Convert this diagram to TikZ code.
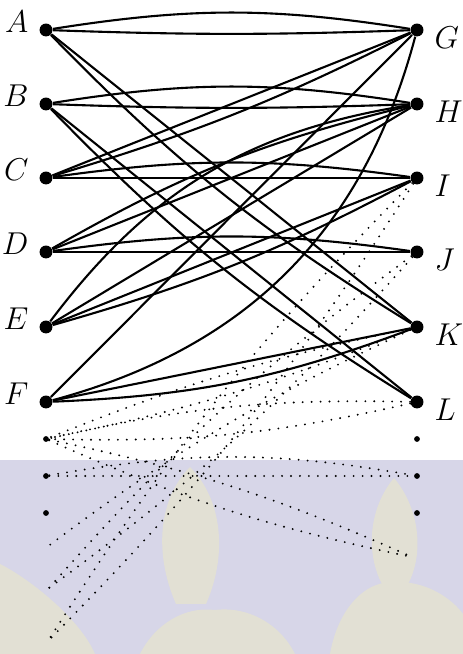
\documentclass[tikz,border=0pt]{standalone}
\usepackage{tikz}
\definecolor{lavbg}{RGB}{215,214,232}
\definecolor{leafcol}{RGB}{226,224,212}
\tikzset{
  vtx/.style={circle,fill,inner sep=0pt,minimum size=4.9pt},
  small/.style={circle,fill,inner sep=0pt,minimum size=2.2pt},
  edge/.style={line width=0.8pt},
  dotedge/.style={line width=0.8pt,dash pattern=on 0pt off 3.4pt,line cap=round},
  lab/.style={font=\fontsize{11.5}{13}\selectfont,label distance=0.5pt},
  labl/.style={lab,yshift=3pt},
  labr/.style={lab,yshift=-3pt}
}
\begin{document}
\begin{tikzpicture}[x=0.38pt,y=0.38pt]
\useasboundingbox (0,0) rectangle (463,654);
% watermark
\fill[lavbg] (0,0) rectangle (463,194);
\begin{scope}[leafcol]
\fill (190,187) .. controls (222,155) and (228,100) .. (206,50) -- (176,50) .. controls (154,100) and (158,155) .. (190,187);
\fill (394,176) .. controls (420,145) and (424,100) .. (408,70) -- (382,70) .. controls (366,100) and (368,145) .. (394,176);
\fill (0,90) .. controls (30,75) and (80,35) .. (95,0) -- (0,0) -- cycle;
\fill (140,0) .. controls (155,30) and (185,48) .. (215,44) .. controls (248,48) and (280,30) .. (295,0) -- cycle;
\fill (330,0) .. controls (338,45) and (365,75) .. (398,72) .. controls (428,72) and (452,55) .. (463,40) -- (463,0) -- cycle;
\end{scope}
% vertices
\node[vtx,label={[labl]left:$A$}] (A) at (46,624) {};
\node[vtx,label={[labl]left:$B$}] (B) at (46,550) {};
\node[vtx,label={[labl]left:$C$}] (C) at (46,476) {};
\node[vtx,label={[labl]left:$D$}] (D) at (46,402) {};
\node[vtx,label={[labl]left:$E$}] (E) at (46,327) {};
\node[vtx,label={[labl]left:$F$}] (F) at (46,252) {};
\node[vtx,label={[labr]right:$G$}] (G) at (417,624) {};
\node[vtx,label={[labr]right:$H$}] (H) at (417,550) {};
\node[vtx,label={[labr]right:$I$}] (I) at (417,476) {};
\node[vtx,label={[labr]right:$J$}] (J) at (417,402) {};
\node[vtx,label={[labr]right:$K$}] (K) at (417,327) {};
\node[vtx,label={[labr]right:$L$}] (L) at (417,252) {};
\node[small] (m1) at (46,215) {};
\node[small] (m2) at (46,178) {};
\node[small] (m3) at (46,141) {};
\node[small] (r1) at (417,215) {};
\node[small] (r2) at (417,178) {};
\node[small] (r3) at (417,141) {};
\coordinate (e1) at (412,97);
\coordinate (f1) at (47,107);
\coordinate (f2) at (49,66);
\coordinate (f3) at (48,13);
% solid edges
\begin{scope}[edge]
\draw (A) to[bend left=9] (G);
\draw (A) to[bend right=2] (G);
\draw (A) to[bend right=7] (K);
\draw (A) -- (K);
\draw (B) to[bend left=9] (H);
\draw (B) to[bend right=2] (H);
\draw (B) to[bend right=7] (L);
\draw (B) -- (L);
\draw (C) to[bend left=8] (I);
\draw (C) -- (I);
\draw (C) to[bend right=5] (G);
\draw (C) -- (G);
\draw (D) to[bend left=8] (J);
\draw (D) -- (J);
\draw (D) to[bend left=8] (H);
\draw (D) -- (H);
\draw (E) to[bend left=22] (H);
\draw (E) -- (H);
\draw (E) to[bend right=6] (I);
\draw (E) -- (I);
\draw (F) to[bend right=30] (G);
\draw (F) -- (G);
\draw (F) to[bend right=9] (K);
\draw (F) -- (K);
\end{scope}
% dotted edges
\begin{scope}[dotedge]
\draw (L) to[bend left=7] (m1);
\draw (L) to[bend right=7] (m1);
\draw (K) to[bend left=5] (m1);
\draw (K) to[bend right=5] (m1);
\draw (m1) to[bend left=6] (e1);
\draw (m1) to[bend right=6] (e1);
\draw (m2) to[bend left=10] (r2);
\draw (m2) -- (r2);
\draw (I) to[bend left=6] (f3);
\draw (I) to[bend right=6] (f3);
\draw (J) to[bend left=6] (f2);
\draw (J) to[bend right=6] (f2);
\draw (K) to[bend right=6] (f1);
\end{scope}
\end{tikzpicture}
\end{document}
